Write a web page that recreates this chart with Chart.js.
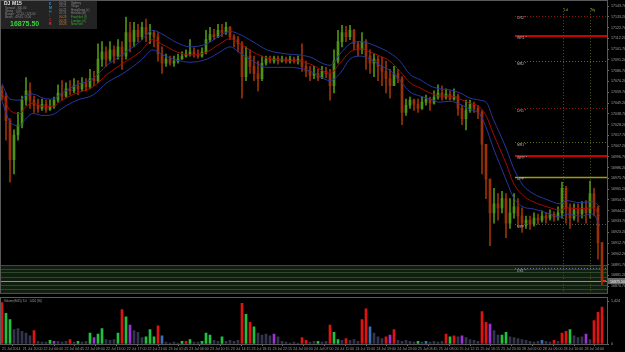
<!DOCTYPE html>
<html>
<head>
<meta charset="utf-8">
<script src="https://cdn.jsdelivr.net/npm/chart.js@4.4.1/dist/chart.umd.min.js"></script>
<style>
  html, body { margin: 0; padding: 0; background: #000; }
  #wrap { position: relative; width: 625px; height: 352px; overflow: hidden; background: #000; }
  #priceBox { position: absolute; left: 0; top: 0; width: 625px; height: 297px; }
  #volBox { position: absolute; left: 0; top: 297px; width: 625px; height: 55px; }
</style>
</head>
<body>
<div id="wrap">
  <div id="priceBox"><canvas id="priceChart"></canvas></div>
  <div id="volBox"><canvas id="volChart"></canvas></div>
</div>
<script>
// M15 candles, one entry per bar (index 0 = oldest)
const opens = [
  17061,17056,17032,16994,17018,17028,17052,17061,17052,17047,
  17044,17048,17043,17046,17052,17059,17056,17063,17061,17066,
  17063,17069,17065,17073,17071,17092,17099,17092,17101,17095,
  17104,17095,17118,17109,17120,17114,17123,17116,17118,17114,
  17097,17088,17092,17088,17090,17092,17095,17097,17099,17097,
  17095,17099,17111,17116,17114,17120,17118,17123,17114,17111,
  17107,17075,17095,17085,17078,17073,17088,17092,17090,17093,
  17090,17092,17090,17092,17090,17092,17085,17080,17076,17078,
  17074,17080,17078,17066,17090,17109,17118,17114,17120,17107,
  17101,17109,17095,17088,17092,17085,17080,17073,17066,17078,
  17073,17040,17047,17052,17048,17044,17050,17053,17049,17055,
  17059,17055,17058,17053,17056,17044,17034,17042,17048,17044,
  17040,17009,16975,16942,16951,16947,16956,16932,16942,16948,
  16939,16932,16935,16931,16937,16935,16939,16937,16941,16938,
  16942,16966,16947,16937,16945,16941,16947,16942,16961,16947,
  16913
];
const highs = [
  17066,17059,17034,17023,17040,17056,17074,17069,17056,17053,
  17053,17052,17052,17055,17067,17071,17069,17071,17073,17071,
  17074,17073,17082,17080,17107,17109,17104,17109,17105,17111,
  17109,17133,17128,17128,17126,17128,17131,17126,17120,17118,
  17104,17097,17095,17095,17097,17099,17101,17111,17103,17101,
  17103,17120,17123,17121,17126,17126,17128,17124,17116,17114,
  17109,17104,17101,17095,17090,17095,17095,17095,17095,17095,
  17095,17094,17095,17094,17095,17107,17090,17085,17085,17082,
  17085,17084,17082,17101,17120,17125,17124,17125,17121,17109,
  17118,17111,17101,17097,17095,17094,17090,17082,17085,17082,
  17075,17053,17055,17053,17053,17055,17057,17055,17061,17067,
  17066,17063,17061,17063,17058,17047,17052,17052,17050,17047,
  17042,17009,16975,16966,16961,16963,16961,16956,16961,16956,
  16947,16939,16939,16942,16941,16944,16942,16945,16943,16948,
  16972,16968,16951,16951,16951,16953,16954,16973,16966,16949,
  16913
];
const lows = [
  17052,17013,16972,16980,17013,17025,17047,17044,17040,17040,
  17042,17040,17042,17044,17050,17052,17055,17057,17059,17057,
  17061,17061,17063,17066,17069,17085,17085,17090,17088,17092,
  17082,17092,17099,17104,17109,17111,17109,17107,17104,17090,
  17078,17085,17086,17085,17088,17092,17094,17095,17094,17093,
  17094,17097,17109,17111,17113,17114,17116,17111,17104,17099,
  17054,17071,17078,17071,17061,17071,17086,17088,17088,17087,
  17089,17088,17088,17088,17087,17080,17075,17071,17073,17071,
  17073,17074,17052,17059,17088,17104,17109,17111,17101,17095,
  17097,17082,17078,17075,17071,17066,17059,17054,17066,17069,
  17028,17037,17044,17042,17040,17043,17047,17042,17048,17053,
  17052,17053,17052,17052,17037,17028,17023,17040,17040,17034,
  16980,16956,16910,16932,16935,16942,16918,16927,16937,16929,
  16923,16927,16926,16929,16931,16933,16932,16935,16934,16935,
  16937,16932,16927,16935,16933,16937,16932,16937,16939,16897,
  16872
];
const closes = [
  17056,17032,16994,17018,17028,17052,17061,17052,17047,17044,
  17048,17043,17046,17052,17059,17056,17063,17061,17066,17063,
  17069,17065,17073,17071,17092,17099,17092,17101,17095,17104,
  17095,17118,17109,17120,17114,17123,17116,17118,17114,17097,
  17088,17092,17088,17090,17092,17095,17097,17099,17097,17095,
  17099,17111,17116,17114,17120,17118,17123,17114,17111,17107,
  17075,17095,17085,17078,17073,17088,17092,17090,17093,17090,
  17092,17090,17092,17090,17092,17085,17080,17076,17078,17074,
  17080,17078,17066,17090,17109,17118,17114,17120,17107,17101,
  17109,17095,17088,17092,17085,17080,17073,17066,17078,17073,
  17040,17047,17052,17048,17044,17050,17053,17049,17055,17059,
  17055,17058,17053,17056,17044,17034,17042,17048,17044,17040,
  17009,16975,16942,16951,16947,16956,16932,16942,16948,16939,
  16932,16935,16931,16937,16935,16939,16937,16941,16938,16942,
  16966,16947,16937,16945,16941,16947,16942,16961,16947,16913,
  16875.5
];

// channel (middle + upper/lower band), sampled at bar positions
const maAt = [0,2,4.5,5.75,7.75,10.25,12.75,15,18.75,22.75,26.25,30.25,34.5,37.75,40.25,
  43.75,47,51.25,54.5,57,59.5,62.75,66.25,71.25,74.5,77.75,79.5,82,84.5,87,89.5,92,94.5,97,
  99.5,102,104.5,107,109.5,112,114.5,117,119.5,121.25,122.75,124.5,126.25,127.75,130.25,
  132.75,136.25,139.5,141.25,144.5,147.75,149.5];
const maMid = [17059,17042,17039,17045,17049,17046,17046,17052,17059,17065,17077,17088,17099,
  17111,17106,17099,17096,17099,17107,17112,17107,17099,17093,17091,17090,17086,17082,17078,
  17088,17099,17102,17099,17095,17090,17080,17069,17064,17059,17056,17056,17053,17049,17045,
  17035,17020,17004,16988,16972,16959,16953,16948,16945,16947,16946,16947,16939];
const maUpper = [17068,17053,17052,17056,17058,17054,17053,17059,17067,17073,17086,17097,17109,
  17120,17116,17108,17104,17107,17115,17119,17116,17109,17101,17097,17096,17093,17089,17086,
  17097,17107,17109,17107,17103,17098,17090,17077,17072,17066,17063,17062,17059,17054,17052,
  17049,17034,17019,17003,16987,16969,16961,16955,16951,16954,16952,16953,16948];
const maLower = [17051,17031,17027,17033,17039,17037,17038,17044,17052,17057,17069,17078,17090,
  17101,17096,17091,17089,17092,17099,17104,17098,17090,17084,17084,17083,17079,17075,17071,
  17078,17092,17095,17092,17086,17081,17071,17060,17056,17053,17050,17051,17048,17043,17038,
  17023,17006,16989,16972,16958,16948,16946,16942,16938,16941,16939,16941,16929];

const volumes = [
  1380,1020,810,480,510,420,360,270,450,90,
  60,60,120,90,90,60,90,150,60,90,
  60,90,360,210,330,510,150,120,150,360,
  1140,900,630,450,390,210,240,480,240,600,
  270,60,30,60,30,90,90,150,60,60,
  90,360,300,120,90,240,90,120,90,120,
  1350,990,720,570,360,300,330,270,330,240,
  90,60,30,60,30,210,120,60,90,90,
  60,90,630,390,150,120,180,120,150,90,
  810,1170,570,360,240,180,240,300,480,120,
  90,120,90,60,90,60,90,60,90,60,
  90,330,240,270,240,270,210,150,120,90,
  1080,720,660,450,300,300,390,240,210,180,
  150,120,90,60,90,120,90,60,120,90,
  360,420,480,270,210,240,330,150,780,1050,
  1230
];
// c = climax, r = rising, h = churn, l = low, n = normal
const volKinds = ('crrnnnnncn' + 'nnrhnnncnr' + 'nnrhrrnnnr' + 'crhnnnrrrc' + 'lnnnnrcrnn' +
  'rrrnnrnnnn' + 'crcrnnnnhn' + 'nnnnnccnnr' + 'nncrrncnnn' + 'cclnnnchcn' +
  'nnnnrnlnnn' + 'ncrcnhnnnn' + 'cchnnrrnnn' + 'nnnnnlnncn' + 'ccrnnnhncc' + 'c').split('');

const priceTicks = [17143.70,17133.20,17122.70,17112.20,17101.70,17091.20,17080.70,17070.20,
  17059.70,17049.20,17038.70,17028.20,17017.70,17007.20,16996.70,16986.20,16975.70,16965.20,
  16954.70,16944.20,16933.70,16923.20,16912.70,16902.20,16891.70,16881.20,16870.70];
const volTicks = [0, 1424];

const timeAt = [0,5.2,10.4,15.6,20.8,26,31.2,36.4,41.6,46.8,52,57.2,62.4,67.6,72.8,78,83.2,
  88.4,93.6,98.8,104,109.2,114.4,119.6,124.8,130,135.2,140.4,145.6];
const timeLabels = ['21 Jul 2014','21 Jul 20:00','22 Jul 00:00','22 Jul 04:45','22 Jul 09:00',
  '22 Jul 13:00','22 Jul 17:00','22 Jul 21:00','23 Jul 01:45','23 Jul 06:00','23 Jul 10:15',
  '23 Jul 14:15','23 Jul 18:15','23 Jul 22:15','24 Jul 03:00','24 Jul 07:00','24 Jul 11:00',
  '24 Jul 15:00','24 Jul 19:00','24 Jul 23:00','25 Jul 03:45','25 Jul 08:00','25 Jul 12:15',
  '25 Jul 16:15','25 Jul 20:30','28 Jul 02:00','28 Jul 06:00','28 Jul 10:00','28 Jul 14:00'];

// pivot levels drawn on the right side
const levelNames = ['DR2','WR1','MR2','DR1','MR1','WPP','DPP','MPP','DS1'];
const levelPrices = [17134,17115,17090,17044,17011,16998,16977,16931,16888];
const levelFrom = 128.25;

const sessionNames = ['Ld','Ny'];
const sessionAt = [140.25, 147];

const zoneTop = 16891;
const zoneBottom = 16864;
const zoneLines = [16891,16887,16884,16880,16872,16868];

const statLines = ['Spread : 300.00', 'Swing : 0.05', 'Range : 72.20 / 123.00', 'Bears : 49.65 / 3.00'];
const flagChars = ['$','M','H','!','C','R'];
const marketTimes = ['00:21','23:21','00:21','07:21','00:23','00:23','00:23'];
const marketNames = ['Sydney','Tokyo','HongKong (c)','Helsinki (b)','Frankfurt (f)','London (cl)','NewYork'];

const FONT = '"Liberation Sans", Arial, sans-serif';
Chart.defaults.font.family = FONT;
Chart.defaults.color = '#9a9a9a';

const idx = closes.map((_, i) => i);
const candleColors = idx.map(i => closes[i] >= opens[i] ? '#4f9414' : '#9a3208');
const volColorOf = { c: '#e01212', r: '#22c040', h: '#9b34d2', l: '#3a70b4', n: '#34344f' };

const levelStyle = {
  DR2: ['#8a1414', 1, [1, 2]],
  WR1: ['#c80000', 2, []],
  MR2: ['#5e6a1c', 1, [1, 2]],
  DR1: ['#8a1414', 1, [1, 2]],
  MR1: ['#5e6a1c', 1, [1, 2]],
  WPP: ['#c80000', 2, []],
  DPP: ['#9c9c14', 1.5, []],
  MPP: ['#4a5a4a', 1, [1, 2]],
  DS1: ['#6a6aa8', 1, [1, 2]]
};

function hline(ctx, x1, x2, y) {
  ctx.beginPath();
  ctx.moveTo(x1, y);
  ctx.lineTo(x2, y);
  ctx.stroke();
}

const priceOverlay = {
  id: 'priceOverlay',
  beforeDatasetsDraw(chart) {
    const { ctx, chartArea: a, scales: { x, y } } = chart;
    ctx.save();

    // green support zone
    const zt = y.getPixelForValue(zoneTop);
    const zb = Math.min(y.getPixelForValue(zoneBottom), a.bottom);
    ctx.fillStyle = 'rgba(26,50,26,0.6)';
    ctx.fillRect(a.left, zt, a.right - a.left, zb - zt);
    ctx.lineWidth = 1;
    zoneLines.forEach((p, k) => {
      ctx.strokeStyle = k === 0 ? '#3e5030' : '#2c4a2a';
      hline(ctx, a.left, a.right, Math.round(y.getPixelForValue(p)) + 0.5);
    });

    // pivot levels
    const lx = x.getPixelForValue(levelFrom);
    levelNames.forEach((name, k) => {
      const st = levelStyle[name];
      ctx.strokeStyle = st[0];
      ctx.lineWidth = st[1];
      ctx.setLineDash(st[2]);
      const yy = Math.round(y.getPixelForValue(levelPrices[k])) + (st[1] === 2 ? 0 : 0.5);
      hline(ctx, lx, a.right, yy);
    });
    ctx.setLineDash([]);

    // session markers
    ctx.strokeStyle = '#4e5a1a';
    ctx.lineWidth = 1;
    ctx.setLineDash([1, 2]);
    sessionAt.forEach(v => {
      const xx = Math.round(x.getPixelForValue(v)) + 0.5;
      ctx.beginPath();
      ctx.moveTo(xx, a.top + 4);
      ctx.lineTo(xx, a.bottom);
      ctx.stroke();
    });
    ctx.setLineDash([]);

    // current price line
    ctx.strokeStyle = '#8a8aa8';
    hline(ctx, a.left, a.right, Math.round(y.getPixelForValue(closes[closes.length - 1])) + 0.5);
    ctx.restore();
  },
  afterDraw(chart) {
    const { ctx, chartArea: a, scales: { x, y } } = chart;
    ctx.save();
    ctx.textBaseline = 'middle';

    // level captions
    ctx.font = '3.4px ' + FONT;
    ctx.fillStyle = '#b8b8b8';
    const lx = x.getPixelForValue(levelFrom);
    levelNames.forEach((name, k) => {
      ctx.fillText(name + ' *', lx + 2, y.getPixelForValue(levelPrices[k]) + 2.5);
    });
    ctx.fillStyle = '#a8a838';
    sessionNames.forEach((n, k) => ctx.fillText(n, x.getPixelForValue(sessionAt[k]) + 1, a.top + 6));

    // last price marker and axis box
    const last = closes[closes.length - 1];
    const py = Math.round(y.getPixelForValue(last));
    ctx.fillStyle = '#ff2020';
    ctx.fillRect(x.getPixelForValue(closes.length - 1) + 1, py - 1, 3, 2);
    ctx.fillStyle = '#6a6a6a';
    ctx.fillRect(a.right + 1, py - 3, 624 - a.right, 6);
    ctx.fillStyle = '#f0f0f0';
    ctx.font = '3.6px ' + FONT;
    ctx.fillText(last.toFixed(2), a.right + 3, py + 0.5);

    // frame
    ctx.strokeStyle = '#5a5a5a';
    ctx.lineWidth = 1;
    ctx.strokeRect(0.5, 0.5, a.right, a.bottom);

    // info panel
    ctx.fillStyle = '#232323';
    ctx.fillRect(1, 1, 96, 28);
    ctx.font = 'bold 5px ' + FONT;
    ctx.fillStyle = '#e6e6e6';
    ctx.fillText('DJ', 4, 4);
    ctx.fillText('M15', 12, 4);
    ctx.font = '3px ' + FONT;
    ctx.fillStyle = '#8a8a8a';
    statLines.forEach((t, k) => ctx.fillText(t, 5, 8.5 + k * 3));
    ctx.font = 'bold 7px ' + FONT;
    ctx.fillStyle = '#36d436';
    ctx.fillText(last.toFixed(2), 10, 24);

    const flagColors = ['#1e90ff', '#2e9a9a', '#2e7a9e', '#d02020', '#d02020', '#ff2a2a'];
    ctx.font = 'bold 3.6px ' + FONT;
    flagChars.forEach((c, k) => {
      ctx.fillStyle = flagColors[k];
      ctx.fillText(c, 49, 3.5 + k * 4.1);
    });
    ctx.font = '3px ' + FONT;
    marketTimes.forEach((t, k) => {
      ctx.fillStyle = k < 4 ? '#8a8a8a' : '#d08030';
      ctx.fillText(t, 59, 2.8 + k * 3.6);
      ctx.fillStyle = k < 4 ? '#8a8a8a' : '#2fae2f';
      ctx.fillText(marketNames[k], 71, 2.8 + k * 3.6);
    });
    ctx.restore();
  }
};

const volOverlay = {
  id: 'volOverlay',
  afterDraw(chart) {
    const { ctx, chartArea: a } = chart;
    ctx.save();
    ctx.strokeStyle = '#5a5a5a';
    ctx.lineWidth = 1;
    ctx.strokeRect(0.5, 0.5, a.right, a.bottom);
    ctx.font = '3px ' + FONT;
    ctx.fillStyle = '#9a9a9a';
    ctx.textBaseline = 'middle';
    ctx.fillText('Volume(M15) 3.0   1424 (30)', 4, 4);
    ctx.restore();
  }
};

new Chart(document.getElementById('priceChart'), {
  type: 'bar',
  data: {
    datasets: [
      {
        type: 'line', label: 'upper', order: 0,
        data: maAt.map((v, k) => ({ x: v, y: maUpper[k] })),
        borderColor: '#2636a0', borderWidth: 1, pointRadius: 0, cubicInterpolationMode: 'monotone'
      },
      {
        type: 'line', label: 'mid', order: 0,
        data: maAt.map((v, k) => ({ x: v, y: maMid[k] })),
        borderColor: '#a40a0a', borderWidth: 1, pointRadius: 0, cubicInterpolationMode: 'monotone'
      },
      {
        type: 'line', label: 'lower', order: 0,
        data: maAt.map((v, k) => ({ x: v, y: maLower[k] })),
        borderColor: '#2636a0', borderWidth: 1, pointRadius: 0, cubicInterpolationMode: 'monotone'
      },
      {
        label: 'wick', order: 2, grouped: false,
        data: idx.map(i => ({ x: i, y: [lows[i], highs[i]] })),
        backgroundColor: candleColors, barThickness: 1, borderWidth: 0
      },
      {
        label: 'body', order: 1, grouped: false,
        data: idx.map(i => ({ x: i, y: [opens[i], closes[i]] })),
        backgroundColor: candleColors, barThickness: 2, minBarLength: 1, borderWidth: 0
      }
    ]
  },
  options: {
    responsive: true,
    maintainAspectRatio: false,
    animation: false,
    devicePixelRatio: 1,
    layout: { padding: { left: 1, top: 1, right: 0, bottom: 1 } },
    plugins: { legend: { display: false }, tooltip: { enabled: false } },
    scales: {
      x: { type: 'linear', display: false, offset: false, min: -0.25, max: 151.25 },
      y: {
        position: 'right', min: 16864.1, max: 17145.6,
        afterBuildTicks: s => { s.ticks = priceTicks.map(v => ({ value: v })); },
        afterFit: s => { s.width = 18; },
        ticks: { font: { size: 3.6 }, color: '#a0a0a0', padding: 2, callback: v => Number(v).toFixed(2) },
        grid: { drawOnChartArea: false, tickLength: 2, color: '#6a6a6a' },
        border: { color: '#6a6a6a' }
      }
    }
  },
  plugins: [priceOverlay]
});

new Chart(document.getElementById('volChart'), {
  type: 'bar',
  data: {
    datasets: [{
      label: 'volume', grouped: false,
      data: idx.map(i => ({ x: i, y: volumes[i] })),
      backgroundColor: volKinds.map(k => volColorOf[k]),
      barThickness: 2, borderWidth: 0
    }]
  },
  options: {
    responsive: true,
    maintainAspectRatio: false,
    animation: false,
    devicePixelRatio: 1,
    layout: { padding: { left: 1, top: 1, right: 0, bottom: 0 } },
    plugins: { legend: { display: false }, tooltip: { enabled: false } },
    scales: {
      x: {
        type: 'linear', offset: false, min: -0.25, max: 151.25,
        afterBuildTicks: s => { s.ticks = timeAt.map(v => ({ value: v })); },
        afterFit: s => { s.height = 8; },
        ticks: {
          autoSkip: false, maxRotation: 0, minRotation: 0, align: 'start', padding: 1,
          font: { size: 3.6 }, color: '#9a9a9a', callback: (v, i) => timeLabels[i]
        },
        grid: { drawOnChartArea: false, tickLength: 2, color: '#6a6a6a' },
        border: { color: '#6a6a6a' }
      },
      y: {
        position: 'right', min: 0, max: 1424,
        afterBuildTicks: s => { s.ticks = volTicks.map(v => ({ value: v })); },
        afterFit: s => { s.width = 18; },
        ticks: { font: { size: 3.6 }, color: '#a0a0a0', padding: 2 },
        grid: { drawOnChartArea: false, tickLength: 2, color: '#6a6a6a' },
        border: { color: '#6a6a6a' }
      }
    }
  },
  plugins: [volOverlay]
});
</script>
</body>
</html>
